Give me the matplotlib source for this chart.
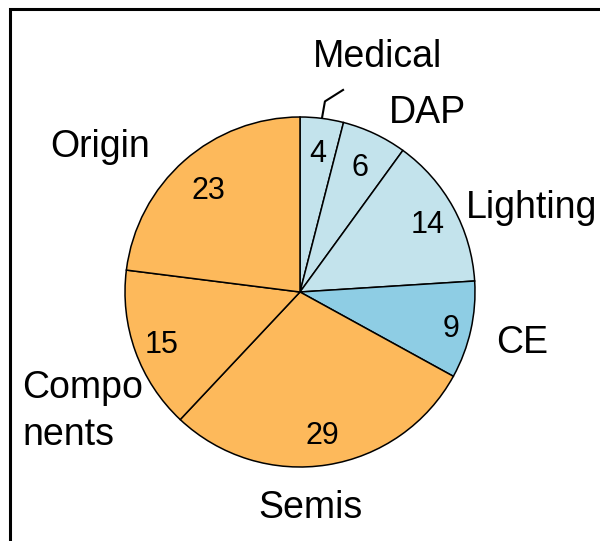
import numpy as np
import matplotlib.pyplot as plt
from matplotlib.patches import Rectangle

plt.rcParams['font.family'] = ['Liberation Sans', 'DejaVu Sans']

# ---------------------------------------------------------------------------
# Data
# ---------------------------------------------------------------------------
segments = ["Medical", "DAP", "Lighting", "CE", "Semis", "Components", "Origin"]
values = [4, 6, 14, 9, 29, 15, 23]
label_lines = [["Medical"], ["DAP"], ["Lighting"], ["CE"], ["Semis"], ["Compo", "nents"], ["Origin"]]

# ---------------------------------------------------------------------------
# Style / layout (pixel coords, y measured from the top)
# ---------------------------------------------------------------------------
light_blue = "#c3e3ec"
mid_blue = "#8ecde4"
orange = "#fdb95b"
colors = [light_blue, light_blue, light_blue, mid_blue, orange, orange, orange]

W, H = 600, 541
cx, cy, R = 300, 292, 175
# label anchor: (x, baseline y, horizontal alignment)
label_pos = [(378, 67, 'center'), (428, 123, 'center'), (532, 218, 'center'),
             (522, 353, 'center'), (310, 518, 'center'), (22, 398, 'left'),
             (100, 157, 'center')]
line_step = 47
num_rad = [0.81, 0.80, 0.835, 0.885, 0.815, 0.84, 0.79]
label_fs = 27
num_fs = 22


def py(y):
    return H - y


fig = plt.figure(figsize=(W / 100, H / 100), dpi=100)
ax = fig.add_axes([0, 0, 1, 1])

ax.add_patch(Rectangle((10, -50), W + 50, H - 9 + 50, fill=False, lw=2.2, ec='black'))

ax.pie(values, colors=colors, startangle=90, counterclock=False,
       center=(cx, py(cy)), radius=R, frame=True,
       wedgeprops=dict(edgecolor='black', linewidth=1.1))
ax.set_xlim(0, W)
ax.set_ylim(0, H)
ax.set_aspect('equal')
ax.axis('off')

cum = np.cumsum([0] + values)
total = float(sum(values))
digit_half = 0.36 * num_fs * 100 / 72
for i, v in enumerate(values):
    mid = np.deg2rad((cum[i] + v / 2) / total * 360)
    r = num_rad[i] * R
    x = cx + r * np.sin(mid)
    y = cy - r * np.cos(mid)
    ax.text(x, py(y + digit_half), str(v), ha='center', va='baseline', fontsize=num_fs)

for (x, y, ha), lines in zip(label_pos, label_lines):
    for k, t in enumerate(lines):
        ax.text(x, py(y + k * line_step), t, ha=ha, va='baseline', fontsize=label_fs)

# leader line for Medical
th0 = np.deg2rad(values[0] / 2 / total * 360)
x0, y0 = cx + R * np.sin(th0), cy - R * np.cos(th0)
ax.plot([x0, x0 + 3, x0 + 22], [py(y0), py(y0 - 17), py(y0 - 29)],
        color='black', lw=1.5, solid_capstyle='butt')

fig.savefig("out.png", dpi=100)
